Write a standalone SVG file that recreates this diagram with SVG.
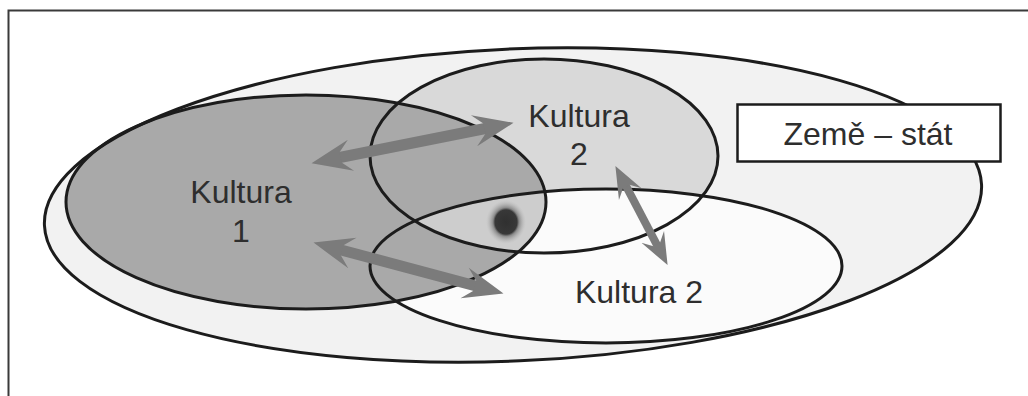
<svg xmlns="http://www.w3.org/2000/svg" width="1028" height="396" viewBox="0 0 1028 396">
  <style>
    .outline { fill: none; stroke: #1c1c1c; stroke-width: 3; }
    .lbl { font-family: "Liberation Sans", Arial, sans-serif; font-size: 32px; fill: #2e2e2e; text-anchor: middle; }
    .arrow { fill: none; stroke: #7b7b7b; }
  </style>
  <defs>
    <marker id="head" markerUnits="userSpaceOnUse" markerWidth="44" markerHeight="36" viewBox="0 -17 40 34" refX="12" refY="0" orient="auto-start-reverse">
      <path d="M38,0 L0,-15 L10,-5 L10,5 L0,15 z" fill="#7b7b7b"/>
    </marker>
    <marker id="headS" markerUnits="userSpaceOnUse" markerWidth="34" markerHeight="28" viewBox="0 -13 32 26" refX="10" refY="0" orient="auto-start-reverse">
      <path d="M30,0 L0,-12 L8,-3.5 L8,3.5 L0,12 z" fill="#7b7b7b"/>
    </marker>
    <radialGradient id="dotGrad">
      <stop offset="0" stop-color="#303030"/>
      <stop offset="0.55" stop-color="#383838"/>
      <stop offset="0.65" stop-color="#8a8a8a"/>
      <stop offset="1" stop-color="#bdbdbd" stop-opacity="0"/>
    </radialGradient>
    <mask id="maskK2" maskUnits="userSpaceOnUse" x="0" y="0" width="1028" height="396">
      <ellipse cx="544" cy="156" rx="174" ry="97" fill="#ffffff"/>
    </mask>
    <clipPath id="clipLower"><ellipse cx="606" cy="266" rx="236" ry="77"/></clipPath>
  </defs>

  <rect x="0" y="0" width="1028" height="396" fill="#ffffff"/>
  <!-- frame -->
  <path d="M8.5,396 V10.5 H1028" fill="none" stroke="#3a3a3a" stroke-width="2"/>

  <g id="zeme-stat-area">
    <ellipse cx="513" cy="205" rx="469" ry="156" transform="rotate(-2.5 513 205)" fill="#f2f2f2"/>
  </g>
  <g id="kultura2-upper">
    <ellipse cx="544" cy="156" rx="174" ry="97" fill="#d9d9d9"/>
  </g>
  <g id="kultura2-lower">
    <ellipse cx="606" cy="266" rx="236" ry="77" fill="#fbfbfb"/>
  </g>
  <g id="kultura1">
    <ellipse cx="306" cy="202" rx="240" ry="107" fill="#a9a9a9"/>
    <g mask="url(#maskK2)">
      <ellipse cx="306" cy="202" rx="240" ry="107" fill="#cdcdcd" clip-path="url(#clipLower)"/>
    </g>
  </g>

  <g id="outlines">
    <ellipse class="outline" cx="513" cy="205" rx="469" ry="156" transform="rotate(-2.5 513 205)"/>
    <ellipse class="outline" cx="306" cy="202" rx="240" ry="107"/>
    <ellipse class="outline" cx="544" cy="156" rx="174" ry="97"/>
    <ellipse class="outline" cx="606" cy="266" rx="236" ry="77"/>
  </g>

  <g id="dot">
    <ellipse cx="506" cy="222" rx="20" ry="22" fill="url(#dotGrad)"/>
  </g>

  <g id="connectors">
    <path class="arrow" d="M338.5,157.75 L486.5,128.25" stroke-width="11" marker-start="url(#head)" marker-end="url(#head)"/>
    <path class="arrow" d="M340.1,249.7 L476.9,286.3" stroke-width="11" marker-start="url(#head)" marker-end="url(#head)"/>
    <path class="arrow" d="M625.3,184.7 L657.7,246.3" stroke-width="8" marker-start="url(#headS)" marker-end="url(#headS)"/>
  </g>

  <g id="label-kultura1">
    <text class="lbl" x="241" y="203">Kultura</text>
    <text class="lbl" x="241" y="242">1</text>
  </g>
  <g id="label-kultura2-upper">
    <text class="lbl" x="579" y="127">Kultura</text>
    <text class="lbl" x="579" y="165">2</text>
  </g>
  <g id="label-kultura2-lower">
    <text class="lbl" x="639" y="303">Kultura 2</text>
  </g>
  <g id="zeme-stat-box">
    <rect x="737.5" y="104.5" width="263" height="57" fill="#ffffff" stroke="#1c1c1c" stroke-width="2.5"/>
    <text class="lbl" x="868" y="145">Země – stát</text>
  </g>
</svg>
